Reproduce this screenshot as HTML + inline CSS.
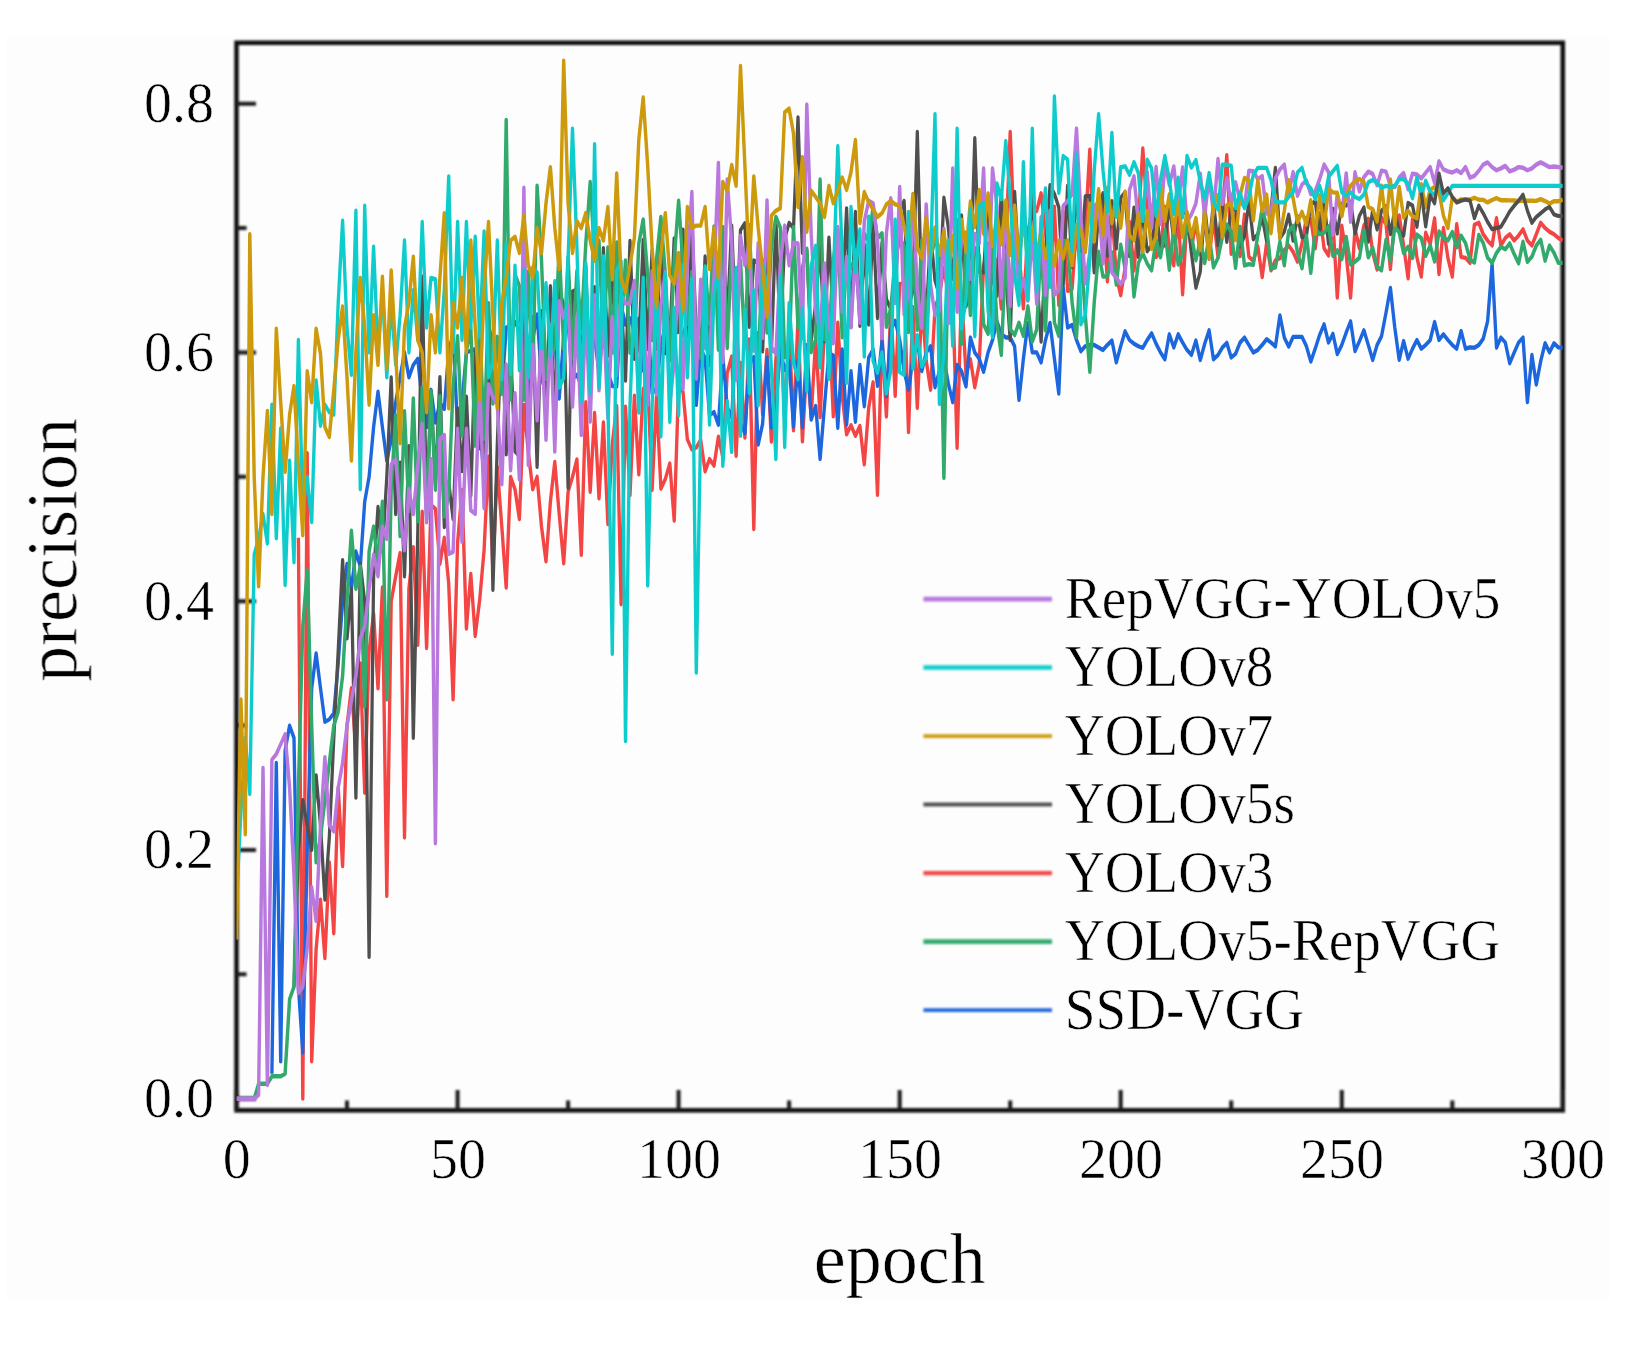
<!DOCTYPE html>
<html lang="en"><head><meta charset="utf-8"><title>precision vs epoch</title>
<style>
html,body{margin:0;padding:0;background:#fff;}
body{width:1638px;height:1345px;overflow:hidden;}
svg{display:block;}
text{font-family:"Liberation Serif","Times New Roman",serif;fill:#000;stroke:#fdfdfd;stroke-width:0.6px;}
.tk{font-size:56px;}
.ax{font-size:72px;}
.lg{font-size:58.4px;}
.ln{fill:none;stroke-linejoin:round;stroke-linecap:butt;}
</style></head><body>
<svg width="1638" height="1345" viewBox="0 0 1638 1345">
<rect x="0" y="0" width="1638" height="1345" fill="#ffffff"/>
<rect x="7.2" y="36.6" width="1601.5" height="1265" fill="#fdfdfd"/>
<defs><clipPath id="pc"><rect x="236.5" y="42.5" width="1326.3" height="1067.5"/></clipPath><filter id="bl" x="-2%" y="-2%" width="104%" height="104%"><feGaussianBlur stdDeviation="0.9"/></filter><filter id="bd" x="-2%" y="-2%" width="104%" height="104%"><feGaussianBlur stdDeviation="0.45 0.65"/></filter><filter id="bt" x="-5%" y="-5%" width="110%" height="110%"><feGaussianBlur stdDeviation="0.45"/></filter></defs>
<g filter="url(#bl)">
<rect x="236.5" y="42.8" width="1326.3" height="1067.5" fill="none" stroke="#0a0a0a" stroke-width="4.5"/>
<path d="M236.5 1110V1090 M347.0 1110V1100.5 M457.6 1110V1090 M568.1 1110V1100.5 M678.6 1110V1090 M789.1 1110V1100.5 M899.7 1110V1090 M1010.2 1110V1100.5 M1120.7 1110V1090 M1231.2 1110V1100.5 M1341.8 1110V1090 M1452.3 1110V1100.5 M1562.8 1110V1090 M236.5 1098.7H256 M236.5 974.3H246.5 M236.5 850.0H256 M236.5 725.6H246.5 M236.5 601.2H256 M236.5 476.8H246.5 M236.5 352.4H256 M236.5 228.1H246.5 M236.5 103.7H256" stroke="#1c1c1c" stroke-width="4" fill="none"/>
</g>
<g clip-path="url(#pc)" filter="url(#bd)"><g transform="scale(1,1.280)">
<polyline class="ln" stroke="#F44444" stroke-width="3.36" points="298.4,420.13 302.8,858.36 307.2,354.06 311.7,829.21 316.1,741.76 320.5,702.89 324.9,748.56 329.3,673.74 333.8,729.13 338.2,615.44 342.6,676.66 347.0,566.86 351.4,537.71 355.9,586.29 360.3,518.27 364.7,619.33 369.1,508.55 373.6,479.40 378.0,537.71 382.4,459.00 386.8,699.98 391.2,469.69 395.7,450.25 400.1,432.08 404.5,654.31 408.9,459.97 413.3,427.42 417.8,503.85 422.2,399.77 426.6,506.41 431.0,394.68 435.4,397.43 439.9,440.54 444.3,420.13 448.7,455.66 453.1,546.45 457.6,424.02 462.0,382.78 466.4,491.06 470.8,448.31 475.2,496.89 479.7,468.51 484.1,429.77 488.5,356.82 492.9,445.70 497.3,364.75 501.8,411.39 506.2,459.00 510.6,372.52 515.0,382.24 519.4,405.56 523.9,316.16 528.3,353.09 532.7,382.24 537.1,372.52 541.5,411.39 546.0,438.59 550.4,391.95 554.8,360.86 559.2,401.67 563.7,440.05 568.1,384.18 572.5,372.52 576.9,358.92 581.3,433.44 585.8,314.22 590.2,384.18 594.6,322.67 599.0,389.42 603.4,329.93 607.9,409.43 612.3,346.91 616.7,317.14 621.1,472.12 625.5,317.67 630.0,386.77 634.4,309.13 638.8,370.53 643.2,303.96 647.7,298.82 652.1,382.68 656.5,309.98 660.9,381.82 665.3,374.32 669.8,362.03 674.2,406.72 678.6,300.89 683.0,306.20 687.4,343.36 691.9,351.18 696.3,349.67 700.7,343.69 705.1,368.34 709.5,358.62 714.0,363.81 718.4,341.19 722.8,356.92 727.2,291.48 731.7,278.52 736.1,356.06 740.5,283.56 744.9,341.93 749.3,265.14 753.8,413.33 758.2,260.12 762.6,323.73 767.0,273.44 771.4,344.95 775.9,280.46 780.3,247.90 784.7,328.72 789.1,254.32 793.5,336.27 798.0,247.65 802.4,344.90 806.8,285.07 811.2,325.20 815.7,264.25 820.1,325.82 824.5,256.12 828.9,245.97 833.3,325.20 837.8,252.16 842.2,309.53 846.6,339.31 851.0,332.15 855.4,340.46 859.9,332.78 864.3,362.80 868.7,318.53 873.1,298.67 877.5,386.61 882.0,261.11 886.4,325.39 890.8,239.26 895.2,309.32 899.7,221.70 904.1,221.75 908.5,337.54 912.9,239.90 917.3,318.60 921.8,237.20 926.2,281.71 930.6,304.50 935.0,240.60 939.4,230.29 943.9,209.00 948.3,230.42 952.7,229.41 957.1,349.88 961.5,228.11 966.0,292.72 970.4,280.75 974.8,302.56 979.2,284.53 983.6,207.78 988.1,190.63 992.5,260.52 996.9,203.01 1001.3,240.99 1005.8,192.91 1010.2,103.07 1014.6,189.63 1019.0,195.97 1023.4,240.97 1027.9,180.43 1032.3,165.03 1036.7,164.96 1041.1,150.98 1045.5,181.36 1050.0,222.92 1054.4,161.45 1058.8,238.38 1063.2,164.75 1067.6,227.24 1072.1,225.70 1076.5,176.49 1080.9,218.19 1085.3,177.71 1089.8,116.97 1094.2,208.60 1098.6,156.31 1103.0,166.00 1107.4,219.84 1111.9,164.20 1116.3,215.32 1120.7,230.65 1125.1,209.65 1129.5,173.40 1134.0,211.46 1138.4,173.18 1142.8,116.00 1147.2,165.12 1151.6,160.91 1156.1,200.85 1160.5,196.22 1164.9,161.54 1169.3,193.60 1173.8,207.33 1178.2,165.25 1182.6,229.88 1187.0,169.52 1191.4,194.14 1195.9,173.41 1200.3,199.01 1204.7,170.29 1209.1,202.20 1213.5,170.09 1218.0,200.81 1222.4,167.74 1226.8,121.15 1231.2,198.30 1235.6,168.18 1240.1,200.08 1244.5,167.60 1248.9,200.57 1253.3,203.95 1257.8,192.45 1262.2,216.56 1266.6,190.00 1271.0,211.22 1275.4,203.30 1279.9,201.70 1284.3,195.42 1288.7,191.86 1293.1,196.73 1297.5,204.42 1302.0,190.17 1306.4,170.08 1310.8,171.14 1315.2,194.03 1319.6,166.51 1324.1,194.06 1328.5,199.64 1332.9,172.47 1337.3,232.50 1341.8,176.38 1346.2,198.95 1350.6,232.50 1355.0,178.55 1359.4,194.03 1363.9,176.29 1368.3,170.83 1372.7,197.29 1377.1,210.54 1381.5,169.86 1386.0,175.02 1390.4,210.25 1394.8,169.91 1399.2,168.33 1403.6,191.79 1408.1,217.54 1412.5,171.32 1416.9,201.01 1421.3,216.08 1425.7,181.73 1430.2,190.71 1434.6,170.51 1439.0,214.14 1443.4,178.06 1447.9,201.40 1452.3,216.08 1456.7,175.15 1461.1,200.71 1465.5,201.37 1470.0,205.39 1474.4,175.52 1478.8,174.01 1483.2,183.04 1487.6,187.90 1492.1,191.79 1496.5,170.41 1500.9,191.79 1505.3,185.96 1509.7,183.04 1514.2,187.90 1518.6,184.01 1523.0,179.16 1527.4,187.90 1531.9,191.79 1536.3,183.04 1540.7,174.01 1545.1,178.18 1549.5,181.10 1554.0,183.04 1558.4,185.96 1562.8,187.90"/>
<polyline class="ln" stroke="#1C66DE" stroke-width="3.36" points="271.9,838.93 276.3,596.01 280.7,829.21 285.1,586.29 289.6,566.86 294.0,576.57 298.4,770.91 302.8,822.41 307.2,664.02 311.7,537.71 316.1,510.50 320.5,537.71 324.9,563.94 329.3,562.00 333.8,557.14 338.2,518.27 342.6,469.69 347.0,440.54 351.4,459.97 355.9,430.82 360.3,442.48 364.7,391.95 369.1,372.52 373.6,333.65 378.0,305.96 382.4,333.65 386.8,359.89 391.2,343.37 395.7,314.22 400.1,294.79 404.5,275.35 408.9,294.79 413.3,285.07 417.8,280.21 422.2,314.22 426.6,333.65 431.0,304.50 435.4,330.09 439.9,314.80 444.3,319.54 448.7,273.52 453.1,261.75 457.6,335.39 462.0,314.22 466.4,275.35 470.8,273.98 475.2,272.71 479.7,333.78 484.1,372.52 488.5,307.75 492.9,259.33 497.3,308.57 501.8,306.70 506.2,255.92 510.6,253.82 515.0,251.56 519.4,258.35 523.9,257.88 528.3,305.46 532.7,265.50 537.1,245.61 541.5,295.12 546.0,307.42 550.4,244.48 554.8,265.63 559.2,311.37 563.7,263.14 568.1,252.73 572.5,295.97 576.9,292.76 581.3,301.13 585.8,251.21 590.2,261.64 594.6,264.07 599.0,291.04 603.4,252.32 607.9,290.65 612.3,301.62 616.7,302.02 621.1,238.57 625.5,253.68 630.0,248.58 634.4,259.61 638.8,249.02 643.2,289.56 647.7,245.41 652.1,307.37 656.5,303.08 660.9,270.57 665.3,253.72 669.8,250.73 674.2,262.01 678.6,257.70 683.0,261.88 687.4,250.82 691.9,250.99 696.3,316.34 700.7,272.04 705.1,279.92 709.5,324.28 714.0,321.93 718.4,331.89 722.8,278.23 727.2,318.48 731.7,326.01 736.1,265.47 740.5,331.14 744.9,338.49 749.3,283.69 753.8,278.94 758.2,347.26 762.6,331.19 767.0,279.47 771.4,334.15 775.9,319.52 780.3,272.93 784.7,289.17 789.1,282.44 793.5,333.17 798.0,281.83 802.4,333.82 806.8,269.64 811.2,327.83 815.7,317.08 820.1,358.62 824.5,316.92 828.9,276.12 833.3,277.73 837.8,334.25 842.2,272.96 846.6,331.63 851.0,289.97 855.4,329.59 859.9,285.04 864.3,317.39 868.7,279.33 873.1,273.01 877.5,301.43 882.0,266.26 886.4,309.45 890.8,257.39 895.2,250.57 899.7,265.63 904.1,289.93 908.5,304.50 912.9,280.21 917.3,266.61 921.8,289.93 926.2,275.35 930.6,270.49 935.0,302.56 939.4,289.93 943.9,280.21 948.3,299.64 952.7,314.22 957.1,285.07 961.5,289.93 966.0,301.88 970.4,263.69 974.8,275.35 979.2,280.21 983.6,290.51 988.1,275.35 992.5,265.63 996.9,251.06 1001.3,260.78 1005.8,263.69 1010.2,263.69 1014.6,270.49 1019.0,312.47 1023.4,280.21 1027.9,252.23 1032.3,275.35 1036.7,275.35 1041.1,283.13 1045.5,265.63 1050.0,252.23 1054.4,280.21 1058.8,307.51 1063.2,224.24 1067.6,255.92 1072.1,253.97 1076.5,265.63 1080.9,274.38 1085.3,270.49 1089.8,269.52 1094.2,269.52 1098.6,271.46 1103.0,273.41 1107.4,269.52 1111.9,266.02 1116.3,283.13 1120.7,270.49 1125.1,258.83 1129.5,265.63 1134.0,268.55 1138.4,270.49 1142.8,271.76 1147.2,265.63 1151.6,260.39 1156.1,268.55 1160.5,275.35 1164.9,280.70 1169.3,261.17 1173.8,271.46 1178.2,261.17 1182.6,267.58 1187.0,273.41 1191.4,277.29 1195.9,266.02 1200.3,281.28 1204.7,268.55 1209.1,258.06 1213.5,280.70 1218.0,277.29 1222.4,271.46 1226.8,267.87 1231.2,279.24 1235.6,276.32 1240.1,267.58 1244.5,263.79 1248.9,269.52 1253.3,275.45 1257.8,273.41 1262.2,269.52 1266.6,264.95 1271.0,267.58 1275.4,270.78 1279.9,246.40 1284.3,263.69 1288.7,270.78 1293.1,263.21 1297.5,263.21 1302.0,263.21 1306.4,270.49 1310.8,282.44 1315.2,272.44 1319.6,261.75 1324.1,253.39 1328.5,267.58 1332.9,260.78 1337.3,276.61 1341.8,269.52 1346.2,259.80 1350.6,251.06 1355.0,274.38 1359.4,266.61 1363.9,258.06 1368.3,269.52 1372.7,281.18 1377.1,269.52 1381.5,262.72 1386.0,244.26 1390.4,224.92 1394.8,255.92 1399.2,281.18 1403.6,266.41 1408.1,280.31 1412.5,272.44 1416.9,265.63 1421.3,272.44 1425.7,269.52 1430.2,265.63 1434.6,251.55 1439.0,265.63 1443.4,261.17 1447.9,265.63 1452.3,269.52 1456.7,272.44 1461.1,258.54 1465.5,272.44 1470.0,271.46 1474.4,271.66 1478.8,269.52 1483.2,264.66 1487.6,251.06 1492.1,206.27 1496.5,271.66 1500.9,263.69 1505.3,267.58 1509.7,283.81 1514.2,275.35 1518.6,267.58 1523.0,263.69 1527.4,314.22 1531.9,277.29 1536.3,300.42 1540.7,282.15 1545.1,268.16 1549.5,275.35 1554.0,268.16 1558.4,271.46 1562.8,271.66"/>
<polyline class="ln" stroke="#505050" stroke-width="3.28" points="294.0,770.91 298.4,664.02 302.8,625.16 307.2,644.59 311.7,664.02 316.1,605.72 320.5,644.59 324.9,702.89 329.3,654.31 333.8,576.57 338.2,508.55 342.6,437.62 347.0,498.84 351.4,459.97 355.9,623.21 360.3,440.54 364.7,469.69 369.1,747.59 373.6,450.25 378.0,396.03 382.4,430.82 386.8,372.52 391.2,294.79 395.7,401.67 400.1,361.46 404.5,450.34 408.9,348.45 413.3,576.57 417.8,415.01 422.2,216.08 426.6,401.25 431.0,305.81 435.4,378.42 439.9,294.66 444.3,411.88 448.7,376.54 453.1,405.58 457.6,319.06 462.0,368.02 466.4,309.89 470.8,387.24 475.2,274.47 479.7,350.10 484.1,352.24 488.5,272.12 492.9,460.94 497.3,347.19 501.8,251.41 506.2,355.04 510.6,274.02 515.0,352.62 519.4,356.35 523.9,245.61 528.3,347.71 532.7,247.73 537.1,364.75 541.5,243.03 546.0,324.79 550.4,223.60 554.8,331.30 559.2,225.61 563.7,239.10 568.1,381.26 572.5,227.77 576.9,226.20 581.3,289.67 585.8,208.39 590.2,308.62 594.6,224.32 599.0,294.17 603.4,193.77 607.9,277.88 612.3,209.34 616.7,288.67 621.1,232.30 625.5,297.34 630.0,188.19 634.4,280.43 638.8,271.44 643.2,187.40 647.7,272.85 652.1,195.62 656.5,272.60 660.9,179.67 665.3,276.05 669.8,265.87 674.2,186.13 678.6,259.30 683.0,179.28 687.4,278.05 691.9,173.93 696.3,261.64 700.7,279.51 705.1,200.27 709.5,285.33 714.0,209.74 718.4,245.02 722.8,186.69 727.2,249.27 731.7,176.25 736.1,262.79 740.5,179.74 744.9,174.37 749.3,255.36 753.8,203.42 758.2,204.84 762.6,274.60 767.0,188.73 771.4,274.48 775.9,171.58 780.3,265.93 784.7,186.70 789.1,174.10 793.5,178.18 798.0,91.70 802.4,197.62 806.8,195.93 811.2,266.31 815.7,237.30 820.1,190.24 824.5,266.77 828.9,185.62 833.3,247.45 837.8,183.34 842.2,237.54 846.6,162.68 851.0,255.32 855.4,165.56 859.9,254.59 864.3,191.37 868.7,253.67 873.1,173.64 877.5,248.57 882.0,189.85 886.4,233.75 890.8,241.48 895.2,224.27 899.7,166.17 904.1,156.93 908.5,239.87 912.9,227.42 917.3,103.07 921.8,235.92 926.2,248.71 930.6,182.67 935.0,219.12 939.4,230.59 943.9,154.46 948.3,177.44 952.7,217.81 957.1,177.08 961.5,168.23 966.0,239.45 970.4,221.14 974.8,107.93 979.2,212.38 983.6,212.83 988.1,154.36 992.5,218.26 996.9,231.11 1001.3,149.13 1005.8,214.42 1010.2,265.63 1014.6,149.80 1019.0,208.67 1023.4,161.83 1027.9,202.26 1032.3,149.57 1036.7,213.63 1041.1,266.90 1045.5,200.94 1050.0,144.68 1054.4,151.44 1058.8,162.01 1063.2,222.34 1067.6,145.09 1072.1,208.65 1076.5,145.66 1080.9,202.85 1085.3,153.43 1089.8,152.93 1094.2,212.73 1098.6,166.08 1103.0,150.88 1107.4,199.78 1111.9,157.02 1116.3,194.09 1120.7,154.42 1125.1,150.27 1129.5,199.97 1134.0,162.17 1138.4,200.74 1142.8,163.79 1147.2,196.44 1151.6,191.64 1156.1,161.86 1160.5,194.28 1164.9,191.08 1169.3,159.53 1173.8,187.36 1178.2,156.88 1182.6,166.40 1187.0,166.42 1191.4,197.62 1195.9,224.82 1200.3,212.19 1204.7,161.01 1209.1,193.73 1213.5,157.51 1218.0,191.49 1222.4,158.02 1226.8,189.07 1231.2,163.78 1235.6,163.48 1240.1,192.54 1244.5,184.22 1248.9,157.54 1253.3,186.96 1257.8,182.99 1262.2,169.37 1266.6,188.05 1271.0,163.75 1275.4,131.15 1279.9,186.25 1284.3,180.95 1288.7,167.68 1293.1,188.04 1297.5,168.92 1302.0,185.49 1306.4,184.19 1310.8,159.80 1315.2,157.36 1319.6,182.06 1324.1,157.45 1328.5,190.40 1332.9,163.19 1337.3,182.44 1341.8,159.26 1346.2,160.63 1350.6,157.54 1355.0,182.23 1359.4,168.62 1363.9,161.99 1368.3,188.74 1372.7,163.98 1377.1,179.26 1381.5,164.52 1386.0,161.02 1390.4,182.93 1394.8,163.98 1399.2,180.88 1403.6,184.06 1408.1,158.56 1412.5,160.55 1416.9,177.19 1421.3,150.42"/>
<polyline class="ln" stroke="#30AA6C" stroke-width="3.44" points="236.5,858.36 240.9,858.36 245.3,858.36 249.8,858.36 254.2,858.36 258.6,846.70 263.0,846.70 267.4,846.70 271.9,840.87 276.3,840.87 280.7,840.87 285.1,838.93 289.6,780.62 294.0,770.91 298.4,615.44 302.8,489.12 307.2,445.40 311.7,566.86 316.1,673.74 320.5,654.31 324.9,625.16 329.3,596.01 333.8,566.86 338.2,556.17 342.6,527.99 347.0,469.69 351.4,414.59 355.9,459.97 360.3,442.48 364.7,552.28 369.1,430.82 373.6,411.39 378.0,440.54 382.4,391.95 386.8,546.45 391.2,382.24 395.7,324.33 400.1,418.81 404.5,321.30 408.9,399.34 413.3,311.26 417.8,407.30 422.2,302.70 426.6,405.80 431.0,305.70 435.4,382.61 439.9,309.47 444.3,403.52 448.7,386.20 453.1,301.21 457.6,262.68 462.0,340.32 466.4,274.04 470.8,256.08 475.2,348.20 479.7,251.10 484.1,342.74 488.5,236.92 492.9,315.31 497.3,263.14 501.8,307.56 506.2,93.65 510.6,312.16 515.0,214.34 519.4,223.36 523.9,312.28 528.3,212.07 532.7,295.10 537.1,145.15 541.5,203.49 546.0,295.91 550.4,280.70 554.8,271.28 559.2,192.98 563.7,272.58 568.1,200.67 572.5,278.31 576.9,211.74 581.3,256.01 585.8,189.99 590.2,142.23 594.6,199.47 599.0,188.10 603.4,271.40 607.9,193.26 612.3,275.42 616.7,189.44 621.1,257.23 625.5,203.39 630.0,275.71 634.4,268.38 638.8,190.48 643.2,171.38 647.7,214.83 652.1,265.62 656.5,202.52 660.9,169.44 665.3,213.41 669.8,281.71 674.2,203.12 678.6,156.81 683.0,207.33 687.4,253.05 691.9,212.40 696.3,259.12 700.7,279.62 705.1,208.01 709.5,252.83 714.0,176.86 718.4,273.22 722.8,177.21 727.2,271.96 731.7,196.58 736.1,265.95 740.5,203.76 744.9,271.45 749.3,175.81 753.8,258.87 758.2,280.22 762.6,203.49 767.0,259.81 771.4,192.57 775.9,169.44 780.3,177.80 784.7,279.13 789.1,276.70 793.5,177.41 798.0,255.87 802.4,209.11 806.8,194.29 811.2,275.14 815.7,265.54 820.1,140.29 824.5,265.13 828.9,265.96 833.3,202.62 837.8,179.87 842.2,263.55 846.6,203.41 851.0,208.93 855.4,201.81 859.9,245.99 864.3,182.63 868.7,188.12 873.1,161.67 877.5,186.19 882.0,182.23 886.4,255.35 890.8,240.41 895.2,203.92 899.7,186.34 904.1,192.11 908.5,259.47 912.9,197.89 917.3,257.65 921.8,187.58 926.2,261.03 930.6,200.53 935.0,188.42 939.4,194.46 943.9,373.49 948.3,192.89 952.7,255.01 957.1,171.98 961.5,268.62 966.0,189.08 970.4,246.12 974.8,193.68 979.2,199.34 983.6,253.51 988.1,260.78 992.5,185.52 996.9,252.29 1001.3,277.29 1005.8,195.90 1010.2,257.25 1014.6,261.79 1019.0,252.14 1023.4,262.36 1027.9,239.31 1032.3,266.87 1036.7,257.53 1041.1,190.27 1045.5,258.18 1050.0,171.22 1054.4,251.96 1058.8,262.46 1063.2,187.70 1067.6,189.89 1072.1,236.19 1076.5,263.29 1080.9,199.06 1085.3,246.20 1089.8,290.51 1094.2,236.48 1098.6,196.65 1103.0,216.08 1107.4,215.80 1111.9,197.25 1116.3,222.32 1120.7,191.24 1125.1,209.46 1129.5,182.75 1134.0,231.63 1138.4,205.47 1142.8,197.85 1147.2,205.90 1151.6,211.21 1156.1,187.20 1160.5,200.98 1164.9,179.49 1169.3,210.73 1173.8,178.35 1178.2,206.63 1182.6,199.17 1187.0,174.87 1191.4,183.91 1195.9,203.31 1200.3,187.68 1204.7,205.57 1209.1,184.36 1213.5,208.89 1218.0,201.50 1222.4,185.15 1226.8,175.56 1231.2,181.21 1235.6,209.21 1240.1,177.29 1244.5,207.37 1248.9,206.36 1253.3,206.97 1257.8,183.69 1262.2,162.64 1266.6,176.70 1271.0,209.87 1275.4,208.81 1279.9,188.87 1284.3,207.25 1288.7,180.78 1293.1,176.37 1297.5,197.47 1302.0,209.57 1306.4,184.17 1310.8,213.16 1315.2,179.00 1319.6,182.84 1324.1,181.68 1328.5,176.85 1332.9,199.97 1337.3,195.67 1341.8,202.48 1346.2,185.13 1350.6,206.58 1355.0,204.42 1359.4,201.48 1363.9,180.13 1368.3,201.07 1372.7,193.73 1377.1,208.29 1381.5,211.22 1386.0,187.34 1390.4,203.82 1394.8,177.41 1399.2,181.60 1403.6,197.56 1408.1,192.76 1412.5,201.61 1416.9,183.29 1421.3,186.00 1425.7,199.89 1430.2,191.79 1434.6,204.28 1439.0,180.76 1443.4,185.69 1447.9,187.90 1452.3,181.22 1456.7,193.15 1461.1,184.14 1465.5,189.84 1470.0,202.81 1474.4,205.13 1478.8,183.53 1483.2,189.84 1487.6,201.27 1492.1,205.39 1496.5,197.62 1500.9,192.76 1505.3,194.70 1509.7,190.19 1514.2,198.59 1518.6,205.80 1523.0,188.87 1527.4,204.55 1531.9,200.53 1536.3,191.79 1540.7,187.30 1545.1,203.64 1549.5,191.79 1554.0,197.62 1558.4,205.39 1562.8,205.39"/>
<polyline class="ln" stroke="#B878DE" stroke-width="3.44" points="236.5,858.36 240.9,858.36 245.3,858.36 249.8,858.36 254.2,858.36 258.6,855.44 263.0,599.89 267.4,847.67 271.9,593.58 276.3,589.20 280.7,581.43 285.1,573.66 289.6,615.44 294.0,683.46 298.4,775.77 302.8,770.91 307.2,740.79 311.7,693.17 316.1,719.41 320.5,644.59 324.9,591.63 329.3,644.59 333.8,649.45 338.2,615.44 342.6,596.01 347.0,566.86 351.4,547.42 355.9,527.99 360.3,498.84 364.7,489.12 369.1,459.97 373.6,433.25 378.0,450.25 382.4,411.39 386.8,421.10 391.2,362.80 395.7,358.92 400.1,401.67 404.5,429.85 408.9,382.24 413.3,401.67 417.8,363.42 422.2,331.04 426.6,408.09 431.0,358.61 435.4,658.78 439.9,342.89 444.3,339.82 448.7,432.71 453.1,431.10 457.6,334.90 462.0,423.27 466.4,334.86 470.8,398.79 475.2,401.38 479.7,297.71 484.1,397.03 488.5,300.29 492.9,310.33 497.3,315.64 501.8,378.45 506.2,284.72 510.6,367.49 515.0,307.18 519.4,374.52 523.9,146.60 528.3,363.36 532.7,269.57 537.1,328.32 541.5,261.56 546.0,343.57 550.4,253.92 554.8,352.85 559.2,235.23 563.7,248.05 568.1,238.48 572.5,317.62 576.9,247.48 581.3,339.94 585.8,241.03 590.2,329.50 594.6,230.69 599.0,304.98 603.4,243.85 607.9,326.58 612.3,247.60 616.7,292.96 621.1,229.97 625.5,237.23 630.0,236.86 634.4,219.44 638.8,317.41 643.2,228.89 647.7,316.40 652.1,211.88 656.5,308.31 660.9,239.19 665.3,212.42 669.8,316.07 674.2,282.97 678.6,211.45 683.0,303.95 687.4,205.92 691.9,150.00 696.3,295.86 700.7,218.61 705.1,271.13 709.5,275.95 714.0,216.32 718.4,127.27 722.8,282.94 727.2,140.29 731.7,189.31 736.1,296.76 740.5,184.21 744.9,207.24 749.3,189.15 753.8,273.99 758.2,190.00 762.6,263.90 767.0,156.52 771.4,271.15 775.9,276.40 780.3,205.72 784.7,176.24 789.1,207.24 793.5,189.63 798.0,190.22 802.4,263.88 806.8,81.70 811.2,182.92 815.7,244.21 820.1,258.29 824.5,205.84 828.9,256.18 833.3,268.15 837.8,177.34 842.2,243.58 846.6,200.78 851.0,255.76 855.4,195.86 859.9,252.11 864.3,172.98 868.7,156.81 873.1,158.75 877.5,187.64 882.0,264.38 886.4,182.06 890.8,154.86 895.2,236.83 899.7,146.12 904.1,245.64 908.5,228.65 912.9,155.75 917.3,225.78 921.8,256.27 926.2,159.68 930.6,222.86 935.0,246.35 939.4,242.85 943.9,178.59 948.3,252.72 952.7,131.54 957.1,243.59 961.5,186.47 966.0,181.67 970.4,217.75 974.8,182.74 979.2,189.88 983.6,131.54 988.1,234.18 992.5,131.54 996.9,160.91 1001.3,232.71 1005.8,158.01 1010.2,239.06 1014.6,174.81 1019.0,231.07 1023.4,217.99 1027.9,234.83 1032.3,180.68 1036.7,237.32 1041.1,169.61 1045.5,230.26 1050.0,164.90 1054.4,230.42 1058.8,226.72 1063.2,160.82 1067.6,157.06 1072.1,151.58 1076.5,100.45 1080.9,168.44 1085.3,221.41 1089.8,197.10 1094.2,161.12 1098.6,157.96 1103.0,205.77 1107.4,168.53 1111.9,212.78 1116.3,217.05 1120.7,221.91 1125.1,217.05 1129.5,148.29 1134.0,137.71 1138.4,173.97 1142.8,170.47 1147.2,134.53 1151.6,177.96 1156.1,130.43 1160.5,175.11 1164.9,127.53 1169.3,144.44 1173.8,130.00 1178.2,160.41 1182.6,130.88 1187.0,173.07 1191.4,167.52 1195.9,159.00 1200.3,135.69 1204.7,168.98 1209.1,137.96 1213.5,166.93 1218.0,124.16 1222.4,159.40 1226.8,139.32 1231.2,157.89 1235.6,142.46 1240.1,157.41 1244.5,161.74 1248.9,133.36 1253.3,133.78 1257.8,139.95 1262.2,137.63 1266.6,166.81 1271.0,166.81 1275.4,139.31 1279.9,132.45 1284.3,128.63 1288.7,151.54 1293.1,134.46 1297.5,152.96 1302.0,144.17 1306.4,141.11 1310.8,151.74 1315.2,149.43 1319.6,140.00 1324.1,128.63 1328.5,134.46 1332.9,183.43 1337.3,151.76 1341.8,168.47 1346.2,135.44 1350.6,173.33 1355.0,134.61 1359.4,149.46 1363.9,138.34 1368.3,134.08 1372.7,135.86 1377.1,144.76 1381.5,133.29 1386.0,134.15 1390.4,145.31 1394.8,146.12 1399.2,138.67 1403.6,135.20 1408.1,147.91 1412.5,135.62 1416.9,136.34 1421.3,139.32 1425.7,134.99 1430.2,130.57 1434.6,143.08 1439.0,126.00 1443.4,132.34 1447.9,133.88 1452.3,134.78 1456.7,133.00 1461.1,135.21 1465.5,130.57 1470.0,138.78 1474.4,137.37 1478.8,133.49 1483.2,128.63 1487.6,126.88 1492.1,130.57 1496.5,133.00 1500.9,131.54 1505.3,129.60 1509.7,133.88 1514.2,132.51 1518.6,130.57 1523.0,131.06 1527.4,133.00 1531.9,131.54 1536.3,128.63 1540.7,126.88 1545.1,128.63 1549.5,130.57 1554.0,130.09 1558.4,130.57 1562.8,131.06"/>
<polyline class="ln" stroke="#CD9A08" stroke-width="3.44" points="899.7,160.69 904.1,176.58 908.5,193.34 912.9,151.48 917.3,193.06 921.8,201.72 926.2,169.82 930.6,200.94 935.0,177.67 939.4,199.24 943.9,180.53 948.3,210.44 952.7,184.30 957.1,225.09 961.5,171.59 966.0,197.06 970.4,157.35 974.8,177.45 979.2,148.45 983.6,182.63 988.1,151.19 992.5,192.34 996.9,168.08 1001.3,190.89 1005.8,156.63 1010.2,199.20 1014.6,160.60 1019.0,202.76 1023.4,171.16 1027.9,206.33 1032.3,177.74 1036.7,198.70 1041.1,180.47 1045.5,201.89 1050.0,181.85 1054.4,207.28 1058.8,188.01 1063.2,201.81 1067.6,187.69 1072.1,207.39 1076.5,175.41 1080.9,179.76 1085.3,196.97 1089.8,159.11 1094.2,188.72 1098.6,147.90 1103.0,183.91 1107.4,146.82 1111.9,174.52 1116.3,152.59 1120.7,177.87 1125.1,149.67 1129.5,184.02 1134.0,187.74 1138.4,166.59 1142.8,196.79 1147.2,165.07 1151.6,194.56 1156.1,184.52 1160.5,144.78 1164.9,172.70 1169.3,151.84 1173.8,181.77 1178.2,157.12 1182.6,185.11 1187.0,165.72 1191.4,184.98 1195.9,170.30 1200.3,195.29 1204.7,166.20 1209.1,201.69 1213.5,160.71 1218.0,152.42 1222.4,184.93 1226.8,160.31 1231.2,158.95 1235.6,187.56 1240.1,152.32 1244.5,139.02 1248.9,140.46 1253.3,172.12 1257.8,140.91 1262.2,165.15 1266.6,151.95 1271.0,182.22 1275.4,152.95 1279.9,185.73 1284.3,164.74 1288.7,140.68 1293.1,154.80 1297.5,173.71 1302.0,165.55 1306.4,175.43 1310.8,156.50 1315.2,182.71 1319.6,152.52 1324.1,177.49 1328.5,147.66 1332.9,150.30 1337.3,150.56 1341.8,168.59 1346.2,152.82 1350.6,145.15 1355.0,141.23 1359.4,139.90 1363.9,142.13 1368.3,161.48 1372.7,163.40 1377.1,173.03 1381.5,145.14 1386.0,174.64 1390.4,140.29 1394.8,175.67 1399.2,146.06 1403.6,170.02 1408.1,164.74 1412.5,168.93 1416.9,170.44 1421.3,143.97 1425.7,161.85 1430.2,148.17 1434.6,146.12 1439.0,149.85 1443.4,168.44 1447.9,178.18 1452.3,154.18 1456.7,157.65 1461.1,155.78 1465.5,155.84 1470.0,155.91 1474.4,154.52 1478.8,156.05 1483.2,156.12 1487.6,158.13 1492.1,156.25 1496.5,154.86 1500.9,156.39 1505.3,156.46 1509.7,156.52 1514.2,156.59 1518.6,157.15 1523.0,156.73 1527.4,156.80 1531.9,156.86 1536.3,156.93 1540.7,155.54 1545.1,157.07 1549.5,159.08 1554.0,157.21 1558.4,157.27 1562.8,155.88"/>
<polyline class="ln" stroke="#0ECCCB" stroke-width="3.36" points="236.5,702.89 240.9,634.87 245.3,576.57 249.8,620.30 254.2,433.06 258.6,421.10 263.0,401.67 267.4,424.60 271.9,316.16 276.3,420.52 280.7,334.72 285.1,457.06 289.6,359.89 294.0,439.27 298.4,265.63 302.8,398.27 307.2,372.52 311.7,407.89 316.1,297.12 320.5,332.68 324.9,316.16 329.3,321.99 333.8,323.94 338.2,236.48 342.6,172.35 347.0,255.92 351.4,292.84 355.9,164.58 360.3,382.24 364.7,160.69 369.1,275.35 373.6,192.76 378.0,275.35 382.4,226.77 386.8,294.79 391.2,236.48 395.7,285.07 400.1,246.20 404.5,187.90 408.9,275.35 413.3,226.77 417.8,265.63 422.2,173.33 426.6,255.92 431.0,217.05 435.4,218.02 439.9,275.35 444.3,226.77 448.7,137.76 453.1,275.35 457.6,173.33 462.0,265.63 466.4,173.33 470.8,255.92 475.2,184.83 479.7,263.34 484.1,180.69 488.5,294.78 492.9,282.27 497.3,187.90 501.8,296.55 506.2,190.13 510.6,292.33 515.0,207.54 519.4,289.26 523.9,211.02 528.3,295.11 532.7,208.96 537.1,212.86 541.5,272.22 546.0,221.26 550.4,278.65 554.8,219.73 559.2,302.88 563.7,295.30 568.1,202.71 572.5,100.45 576.9,192.37 581.3,313.27 585.8,205.66 590.2,307.34 594.6,112.60 599.0,302.76 603.4,200.20 607.9,312.33 612.3,510.89 616.7,211.21 621.1,204.10 625.5,579.00 630.0,316.75 634.4,227.82 638.8,322.36 643.2,216.99 647.7,457.44 652.1,317.36 656.5,221.74 660.9,340.91 665.3,213.94 669.8,329.64 674.2,240.52 678.6,324.35 683.0,206.77 687.4,294.82 691.9,217.96 696.3,525.56 700.7,331.68 705.1,208.69 709.5,331.73 714.0,230.40 718.4,208.10 722.8,363.97 727.2,313.40 731.7,353.09 736.1,209.28 740.5,340.56 744.9,241.50 749.3,307.16 753.8,226.93 758.2,316.66 762.6,206.08 767.0,223.11 771.4,287.92 775.9,358.62 780.3,215.60 784.7,349.20 789.1,236.80 793.5,283.50 798.0,296.32 802.4,240.73 806.8,305.36 811.2,207.41 815.7,192.03 820.1,286.96 824.5,223.62 828.9,296.05 833.3,218.74 837.8,114.25 842.2,196.51 846.6,299.14 851.0,161.67 855.4,212.23 859.9,179.18 864.3,278.65 868.7,169.26 873.1,282.09 877.5,291.17 882.0,275.24 886.4,307.42 890.8,289.17 895.2,171.61 899.7,290.66 904.1,292.89 908.5,165.54 912.9,288.16 917.3,261.84 921.8,286.43 926.2,279.25 930.6,200.01 935.0,89.18 939.4,315.68 943.9,276.21 948.3,187.78 952.7,270.31 957.1,100.45 961.5,256.95 966.0,234.17 970.4,163.09 974.8,262.71 979.2,161.12 983.6,158.41 988.1,242.75 992.5,263.37 996.9,143.21 1001.3,155.71 1005.8,110.17 1010.2,154.48 1014.6,214.71 1019.0,238.27 1023.4,126.68 1027.9,234.17 1032.3,100.45 1036.7,227.81 1041.1,178.18 1045.5,147.15 1050.0,224.18 1054.4,75.38 1058.8,150.63 1063.2,121.83 1067.6,124.74 1072.1,196.27 1076.5,119.88 1080.9,253.49 1085.3,246.20 1089.8,203.18 1094.2,133.64 1098.6,89.18 1103.0,133.05 1107.4,165.90 1111.9,103.85 1116.3,169.48 1120.7,130.61 1125.1,129.89 1129.5,136.63 1134.0,126.63 1138.4,135.31 1142.8,172.60 1147.2,124.65 1151.6,131.54 1156.1,168.80 1160.5,140.44 1164.9,121.83 1169.3,140.05 1173.8,167.16 1178.2,138.86 1182.6,169.78 1187.0,121.83 1191.4,130.91 1195.9,125.03 1200.3,142.00 1204.7,155.23 1209.1,135.18 1213.5,157.16 1218.0,163.61 1222.4,128.63 1226.8,128.63 1231.2,129.60 1235.6,162.64 1240.1,150.30 1244.5,162.64 1248.9,153.89 1253.3,136.40 1257.8,131.15 1262.2,131.15 1266.6,131.15 1271.0,140.68 1275.4,157.29 1279.9,158.17 1284.3,158.17 1288.7,153.89 1293.1,150.30 1297.5,134.65 1302.0,131.15 1306.4,143.20 1310.8,147.09 1315.2,155.54 1319.6,145.15 1324.1,157.29 1328.5,138.34 1332.9,133.78 1337.3,129.60 1341.8,150.30 1346.2,152.92 1350.6,150.30 1355.0,153.89 1359.4,155.54 1363.9,151.95 1368.3,142.43 1372.7,140.68 1377.1,142.43 1381.5,146.80 1386.0,145.15 1390.4,146.12 1394.8,145.15 1399.2,140.13 1403.6,139.81 1408.1,143.89 1412.5,154.86 1416.9,138.50 1421.3,152.92 1425.7,141.21 1430.2,149.88 1434.6,152.32 1439.0,140.95 1443.4,156.52 1447.9,150.98 1452.3,145.15 1456.7,145.15 1461.1,145.15 1465.5,145.15 1470.0,145.15 1474.4,145.15 1478.8,145.15 1483.2,145.15 1487.6,145.15 1492.1,145.15 1496.5,145.15 1500.9,145.15 1505.3,145.15 1509.7,145.15 1514.2,145.15 1518.6,145.15 1523.0,145.15 1527.4,145.15 1531.9,145.15 1536.3,145.15 1540.7,145.15 1545.1,145.15 1549.5,145.15 1554.0,145.15 1558.4,145.15 1562.8,145.15"/>
<polyline class="ln" stroke="#CD9A08" stroke-width="3.44" points="236.5,733.98 240.9,546.45 245.3,651.88 249.8,183.04 254.2,372.52 258.6,458.03 263.0,372.52 267.4,321.02 271.9,401.67 276.3,256.89 280.7,314.22 285.1,368.63 289.6,323.94 294.0,301.59 298.4,362.80 302.8,418.19 307.2,289.93 311.7,314.22 316.1,256.89 320.5,276.32 324.9,333.65 329.3,341.43 333.8,304.50 338.2,265.63 342.6,239.40 347.0,294.79 351.4,359.89 355.9,275.35 360.3,217.05 364.7,255.92 369.1,316.16 373.6,246.20 378.0,285.07 382.4,216.08 386.8,287.98 391.2,211.22 395.7,275.35 400.1,346.28 404.5,255.92 408.9,236.48 413.3,200.53 417.8,265.63 422.2,275.35 426.6,321.99 431.0,246.20 435.4,275.35 439.9,217.05 444.3,166.52 448.7,319.08 453.1,236.48 457.6,255.92 462.0,217.05 466.4,275.35 470.8,187.90 475.2,255.92 479.7,312.28 484.1,226.77 488.5,173.33 492.9,246.20 497.3,319.08 501.8,236.48 506.2,217.05 510.6,187.90 515.0,184.99 519.4,197.62 523.9,168.47 528.3,207.33 532.7,217.05 537.1,178.18 541.5,197.62 546.0,158.75 550.4,130.57 554.8,178.18 559.2,210.25 563.7,47.49 568.1,158.75 572.5,197.62 576.9,172.84 581.3,178.18 585.8,166.52 590.2,187.90 594.6,203.74 599.0,178.18 603.4,187.90 607.9,161.67 612.3,218.31 616.7,135.43 621.1,217.05 625.5,228.13 630.0,207.33 634.4,185.96 638.8,109.19 643.2,76.16 647.7,129.60 652.1,193.73 656.5,239.40 660.9,197.62 665.3,166.52 669.8,215.11 674.2,221.91 678.6,197.62 683.0,242.70 687.4,161.67 691.9,178.18 696.3,176.24 700.7,176.24 705.1,161.67 709.5,210.25 714.0,178.18 718.4,217.05 722.8,142.23 727.2,149.03 731.7,128.82 736.1,145.15 740.5,51.57 744.9,129.60 749.3,208.60 753.8,137.76 758.2,178.18 762.6,210.25 767.0,247.56 771.4,168.47 775.9,164.58 780.3,162.64 784.7,87.82 789.1,84.90 793.5,104.34 798.0,161.67 802.4,122.80 806.8,181.10 811.2,149.03 815.7,153.89 820.1,158.75 824.5,169.44 828.9,145.15 833.3,158.75 837.8,149.03 842.2,138.64 846.6,148.35 851.0,134.46 855.4,109.39 859.9,174.30 864.3,150.00 868.7,158.17 873.1,163.61 877.5,169.44 882.0,166.52 886.4,159.72 890.8,156.81 895.2,159.72 899.7,160.69"/>
<polyline class="ln" stroke="#505050" stroke-width="3.28" points="1421.3,150.42 1425.7,176.93 1430.2,152.67 1434.6,158.75 1439.0,135.62 1443.4,150.98 1447.9,147.09 1452.3,153.89 1456.7,158.26 1461.1,156.81 1465.5,155.83 1470.0,156.81 1474.4,170.41 1478.8,160.69 1483.2,166.52 1487.6,173.33 1492.1,179.16 1496.5,178.18 1500.9,177.21 1505.3,171.38 1509.7,165.26 1514.2,160.69 1518.6,156.81 1523.0,152.14 1527.4,164.58 1531.9,174.01 1536.3,169.44 1540.7,166.52 1545.1,163.61 1549.5,161.67 1554.0,167.50 1558.4,168.76 1562.8,168.76"/>
</g></g>
<g class="tk" filter="url(#bt)">
<text x="236.8" y="1178" text-anchor="middle">0</text>
<text x="457.9" y="1178" text-anchor="middle">50</text>
<text x="678.9" y="1178" text-anchor="middle">100</text>
<text x="900.0" y="1178" text-anchor="middle">150</text>
<text x="1121.0" y="1178" text-anchor="middle">200</text>
<text x="1342.0" y="1178" text-anchor="middle">250</text>
<text x="1563.1" y="1178" text-anchor="middle">300</text>
<text x="214" y="1117.0" text-anchor="end">0.0</text>
<text x="214" y="868.2" text-anchor="end">0.2</text>
<text x="214" y="619.5" text-anchor="end">0.4</text>
<text x="214" y="370.7" text-anchor="end">0.6</text>
<text x="214" y="122.0" text-anchor="end">0.8</text>
</g>
<g class="ax" filter="url(#bt)">
<text x="899.7" y="1282.6" text-anchor="middle">epoch</text>
<text transform="translate(76.3,550) rotate(-90)" text-anchor="middle">precision</text>
</g>
<g filter="url(#bl)">
<line x1="923.4" x2="1052" y1="599.1" y2="599.1" stroke="#B878DE" stroke-width="4.8"/>
<line x1="923.4" x2="1052" y1="667.6" y2="667.6" stroke="#0ECCCB" stroke-width="4.5"/>
<line x1="923.4" x2="1052" y1="736.1" y2="736.1" stroke="#CD9A08" stroke-width="3.8"/>
<line x1="923.4" x2="1052" y1="804.6" y2="804.6" stroke="#505050" stroke-width="4.0"/>
<line x1="923.4" x2="1052" y1="873.1" y2="873.1" stroke="#F44444" stroke-width="4.3"/>
<line x1="923.4" x2="1052" y1="941.6" y2="941.6" stroke="#30AA6C" stroke-width="4.7"/>
<line x1="923.4" x2="1052" y1="1010.1" y2="1010.1" stroke="#1C66DE" stroke-width="3.8"/>
</g>
<g class="lg" filter="url(#bt)">
<text transform="translate(1064.8,617.9) scale(0.946,1)">RepVGG-YOLOv5</text>
<text transform="translate(1064.8,686.4) scale(0.946,1)">YOLOv8</text>
<text transform="translate(1064.8,754.9) scale(0.946,1)">YOLOv7</text>
<text transform="translate(1064.8,823.4) scale(0.946,1)">YOLOv5s</text>
<text transform="translate(1064.8,891.9) scale(0.946,1)">YOLOv3</text>
<text transform="translate(1064.8,960.4) scale(0.946,1)">YOLOv5-RepVGG</text>
<text transform="translate(1064.8,1028.9) scale(0.946,1)">SSD-VGG</text>
</g>
</svg>
</body></html>
